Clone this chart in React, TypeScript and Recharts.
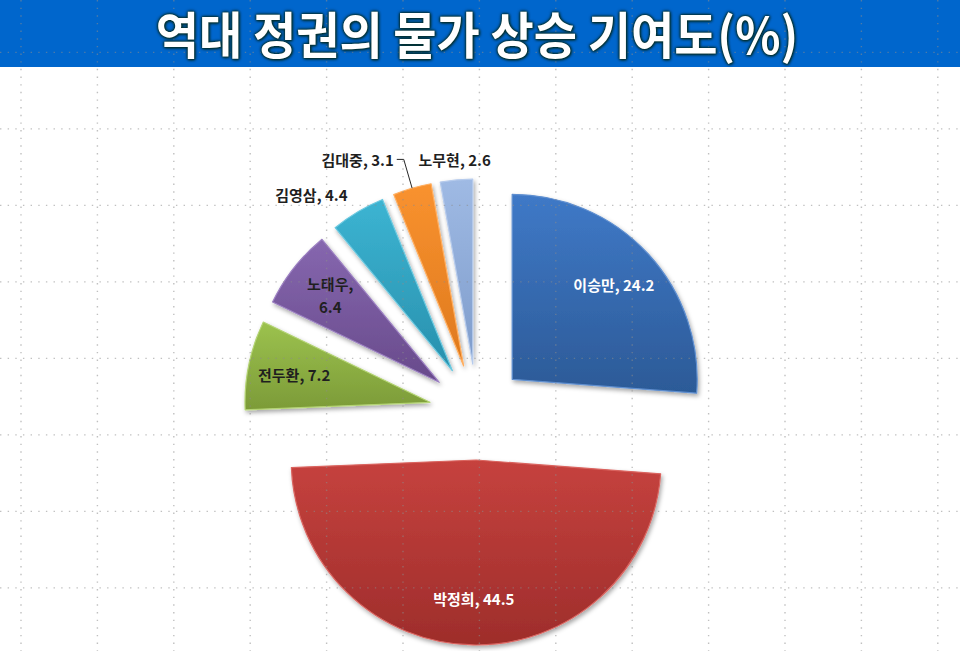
import React from 'react';
import { PieChart, Pie, Sector } from 'recharts';

const NAMES = ['이승만', '박정희', '전두환', '노태우', '김영삼', '김대중', '노무현'];
const VALUES = [24.2, 44.5, 7.2, 6.4, 4.4, 3.1, 2.6];
const TOP_COLORS = ['#3F79C7', '#C6423E', '#9CC24E', '#8667AF', '#3CB4D2', '#F9922F', '#9FBAE4'];
const BOTTOM_COLORS = ['#2C5A97', '#9E2D2B', '#7C9B38', '#684A8B', '#2890AD', '#DE791D', '#7E9CCB'];
const EDGE_COLORS = ['#5F8FD0', '#DA645F', '#B4D474', '#9C80C2', '#6CC9E0', '#FFAE60', '#B6CBEC'];
const LEADER_LABELS = ['김대중'];
const TITLE = '역대 정권의 물가 상승 기여도(%)';

const data = NAMES.map((name, i) => ({ name, value: VALUES[i] }));

const W = 960;
const H = 651;
const CX = 477;
const CY = 412;
const R = 185;
const EXPLODE = 48;
const RAD = Math.PI / 180;
const FONT = '"Noto Sans CJK KR", "Noto Sans", sans-serif';

const ExplodedSector = (props: any) => {
  const { cx, cy, midAngle, outerRadius, startAngle, endAngle, index } = props;
  const ux = Math.cos(-midAngle * RAD);
  const uy = Math.sin(-midAngle * RAD);
  const x = cx + EXPLODE * ux;
  const y = cy + EXPLODE * uy;
  return (
    <g filter="url(#sliceShadow)">
      <Sector
        cx={x}
        cy={y}
        innerRadius={0}
        outerRadius={outerRadius}
        startAngle={startAngle}
        endAngle={endAngle}
        fill={`url(#sliceGrad${index})`}
        stroke={EDGE_COLORS[index]}
        strokeWidth={1.2}
        strokeLinejoin="round"
      />
    </g>
  );
};

const renderLabel = (p: any) => {
  const { cx, cy, midAngle, outerRadius, percent, name, value } = p;
  const ux = Math.cos(-midAngle * RAD);
  const uy = Math.sin(-midAngle * RAD);
  const ax = cx + EXPLODE * ux;
  const ay = cy + EXPLODE * uy;
  const text = `${name}, ${value}`;
  const common = {
    fontFamily: FONT,
    fontWeight: 700,
    fontSize: 15,
  } as any;
  if (percent >= 0.06) {
    const r = outerRadius * 0.75;
    const x = ax + r * ux;
    const y = ay + r * uy;
    const fill = percent > 0.2 ? '#ffffff' : '#1f1f1f';
    if (percent < 0.075) {
      return (
        <text x={x} y={y} textAnchor="middle" fill={fill} {...common}>
          <tspan x={x} dy={-7}>{`${name},`}</tspan>
          <tspan x={x} dy={23}>{`${value}`}</tspan>
        </text>
      );
    }
    return (
      <text x={x} y={y} textAnchor="middle" dominantBaseline="central" fill={fill} {...common}>
        {text}
      </text>
    );
  }
  const ox = ax + outerRadius * ux;
  const oy = ay + outerRadius * uy;
  const leader = LEADER_LABELS.includes(name);
  const dist = leader ? 30 : 20;
  const lx = ox + dist * ux;
  const ly = oy + dist * uy;
  const anchor = Math.abs(ux) < 0.15 ? 'middle' : ux < 0 ? 'end' : 'start';
  if (leader) {
    const tx = lx - 10;
    return (
      <g>
        <polyline
          points={`${ox},${oy} ${lx},${ly} ${tx + 3},${ly}`}
          fill="none"
          stroke="#262626"
          strokeWidth={1}
        />
        <text x={tx} y={ly} textAnchor="end" dominantBaseline="central" fill="#1f1f1f" {...common}>
          {text}
        </text>
      </g>
    );
  }
  return (
    <text x={lx} y={ly} textAnchor={anchor} dominantBaseline="central" fill="#1f1f1f" {...common}>
      {text}
    </text>
  );
};

const gridXs: number[] = [];
for (let x = 21; x < W; x += 76.4) gridXs.push(x);
const gridYs: number[] = [];
for (let y = 52.4; y < H; y += 76.5) gridYs.push(y);

const glow = '#04302f';

export default function App() {
  return (
    <div style={{ position: 'absolute', left: 0, top: 0, width: W, height: H, background: '#ffffff', overflow: 'hidden' }}>
      <svg width={W} height={H} style={{ position: 'absolute', left: 0, top: 0 }}>
        <defs>
          {NAMES.map((n, i) => (
            <linearGradient key={n} id={`sliceGrad${i}`} x1="0" y1="0" x2="0" y2="1">
              <stop offset="0%" stopColor={TOP_COLORS[i]} />
              <stop offset="100%" stopColor={BOTTOM_COLORS[i]} />
            </linearGradient>
          ))}
          <filter id="sliceShadow" x="-20%" y="-20%" width="140%" height="140%">
            <feDropShadow dx="1.5" dy="2.5" stdDeviation="2" floodColor="#000" floodOpacity="0.35" />
          </filter>
        </defs>
        <rect x={0} y={0} width={W} height={67} fill="#0066CC" />
      </svg>
      <div style={{ position: 'absolute', left: 0, top: 0 }}>
        <PieChart width={W} height={H} margin={{ top: 0, right: 0, bottom: 0, left: 0 }}>
          <Pie
            data={data}
            dataKey="value"
            nameKey="name"
            cx={CX}
            cy={CY}
            innerRadius={0}
            outerRadius={R}
            startAngle={90}
            endAngle={-270}
            stroke="none"
            isAnimationActive={false}
            shape={ExplodedSector}
            label={renderLabel}
            labelLine={false}
          />
        </PieChart>
      </div>
      <svg width={W} height={H} style={{ position: 'absolute', left: 0, top: 0, pointerEvents: 'none' }}>
        {gridXs.map((x) => (
          <line key={`vx${x}`} x1={x} y1={0} x2={x} y2={H} stroke="#8c8c8c" strokeOpacity={0.55} strokeWidth={1.4} strokeDasharray="1.4 6.25" />
        ))}
        {gridYs.map((y) => (
          <line key={`hy${y}`} x1={0} y1={y} x2={W} y2={y} stroke="#8c8c8c" strokeOpacity={0.55} strokeWidth={1.4} strokeDasharray="1.4 6.25" />
        ))}
      </svg>
      <div
        style={{
          position: 'absolute',
          left: 0,
          top: 0,
          width: W - 6,
          textAlign: 'center',
          whiteSpace: 'nowrap',
          fontFamily: FONT,
          fontWeight: 700,
          fontSize: 50,
          lineHeight: '65px',
          color: '#ffffff',
          transform: 'scale(0.94, 1)',
          transformOrigin: '477px 32px',
          textShadow: `0 0 2px ${glow}, 0 0 3px ${glow}, 0 0 4px ${glow}, 1px 1px 3px ${glow}`,
        }}
      >
        {TITLE}
      </div>
    </div>
  );
}
